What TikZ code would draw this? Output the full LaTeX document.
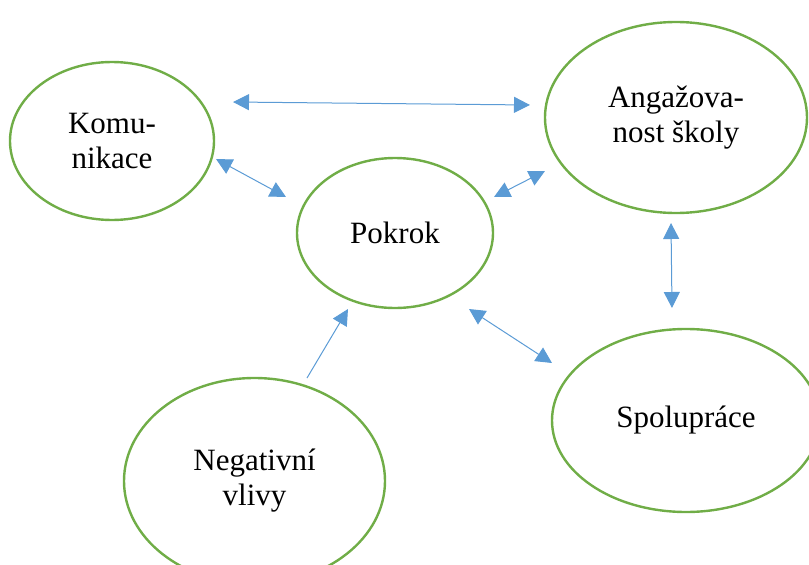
\documentclass[tikz,border=0pt]{standalone}
\usepackage{fontspec}
\setmainfont{Liberation Serif}
\usetikzlibrary{shapes.geometric,arrows.meta}
\definecolor{ringgreen}{HTML}{70AD47}
\definecolor{arrowblue}{HTML}{5B9BD5}
\tikzset{
  bubble/.style={ellipse, draw=ringgreen, line width=2.4pt, inner sep=0pt, align=center,
    font=\fontsize{31}{35}\selectfont},
  link/.style={draw=arrowblue, line width=1pt, {Triangle[length=16pt,width=16pt]}-{Triangle[length=16pt,width=16pt]}},
  onelink/.style={draw=arrowblue, line width=1pt, -{Triangle[length=16pt,width=16pt]}}
}
\begin{document}
\begin{tikzpicture}[x=1pt,y=-1pt]
\useasboundingbox (0,0) rectangle (809,565);
\node[bubble, minimum width=204pt, minimum height=158pt] (kom) at (112,141) {Komu-\\nikace};
\node[bubble, minimum width=262pt, minimum height=191pt] (ang) at (676,117.5) {Angažova-\\nost školy};
\node[bubble, minimum width=196pt, minimum height=150pt] (pok) at (395,233) {Pokrok};
\node[bubble, minimum width=268pt, minimum height=183pt] (spo) at (686,420.5) {Spolupráce};
\node[bubble, minimum width=261pt, minimum height=206pt] (neg) at (254.5,481) {Negativní\\vlivy};

\coordinate (a1s) at (233,102);
\coordinate (a1e) at (530,105);
\coordinate (a2s) at (216,159);
\coordinate (a2e) at (286,197);
\coordinate (a3s) at (545,171);
\coordinate (a3e) at (494,197);
\coordinate (a4s) at (671,223);
\coordinate (a4e) at (672,308);
\coordinate (a5s) at (469,309);
\coordinate (a5e) at (552,363);
\coordinate (a6s) at (307,378);
\coordinate (a6e) at (348,309);

\draw[link] (a1s) -- (a1e);
\draw[link] (a2s) -- (a2e);
\draw[link] (a3s) -- (a3e);
\draw[link] (a4s) -- (a4e);
\draw[link] (a5s) -- (a5e);
\draw[onelink] (a6s) -- (a6e);
\end{tikzpicture}
\end{document}
